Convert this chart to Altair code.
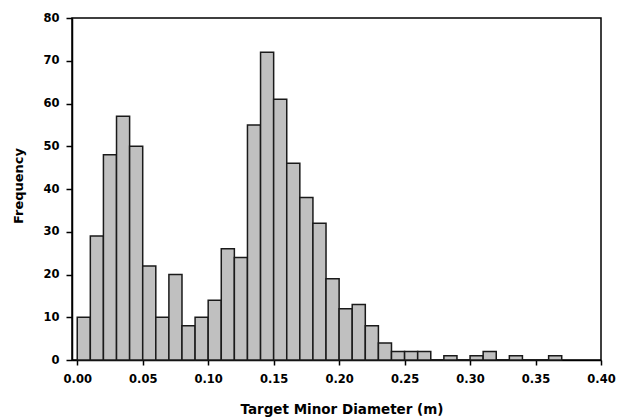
import altair as alt
import pandas as pd

bin_start = [0.00, 0.01, 0.02, 0.03, 0.04, 0.05, 0.06, 0.07, 0.08, 0.09,
             0.10, 0.11, 0.12, 0.13, 0.14, 0.15, 0.16, 0.17, 0.18, 0.19,
             0.20, 0.21, 0.22, 0.23, 0.24, 0.25, 0.26, 0.27, 0.28, 0.29,
             0.30, 0.31, 0.32, 0.33, 0.34, 0.35, 0.36]
counts = [10, 29, 48, 57, 50, 22, 10, 20, 8, 10,
          14, 26, 24, 55, 72, 61, 46, 38, 32, 19,
          12, 13, 8, 4, 2, 2, 2, 0, 1, 0,
          1, 2, 0, 1, 0, 0, 1]
bin_width = 0.01
x_ticks = [0.00, 0.05, 0.10, 0.15, 0.20, 0.25, 0.30, 0.35, 0.40]
y_ticks = [0, 10, 20, 30, 40, 50, 60, 70, 80]

df = pd.DataFrame({"start": bin_start, "count": counts})
df["end"] = df["start"] + bin_width

FONT = "DejaVu Sans"

chart = alt.Chart(df).mark_bar(
    color="#c0c0c0", stroke="#1a1a1a", strokeWidth=1.5
).encode(
    x=alt.X("start:Q",
            scale=alt.Scale(domain=[-0.004, 0.40], nice=False, zero=False),
            axis=alt.Axis(values=x_ticks, format=".2f", title="Target Minor Diameter (m)",
                          grid=False, tickSize=5, labelPadding=8, titlePadding=18,
                          labelFlush=False, titleFontSize=13.5, titleX=269.5)),
    x2="end:Q",
    y=alt.Y("count:Q",
            scale=alt.Scale(domain=[0, 80], nice=False),
            axis=alt.Axis(values=y_ticks, title="Frequency", grid=False,
                          tickSize=6, labelPadding=7, titlePadding=17.5,
                          labelFlush=False, titleY=167.5)),
    y2=alt.datum(0),
).properties(
    width=529, height=342,
    autosize=alt.AutoSizeParams(type="none"),
    padding={"left": 72, "top": 18, "right": 24, "bottom": 60},
).configure_view(
    stroke="black", strokeWidth=1.5
).configure_axis(
    domainColor="black", domainWidth=1.5, tickColor="black", tickWidth=1.5,
    labelFont=FONT, labelFontSize=11.5, labelFontWeight="bold", labelColor="black",
    titleFont=FONT, titleFontSize=13, titleFontWeight="bold", titleColor="black",
)

chart.save("out.html", embed_options={"renderer": "svg", "actions": False})
